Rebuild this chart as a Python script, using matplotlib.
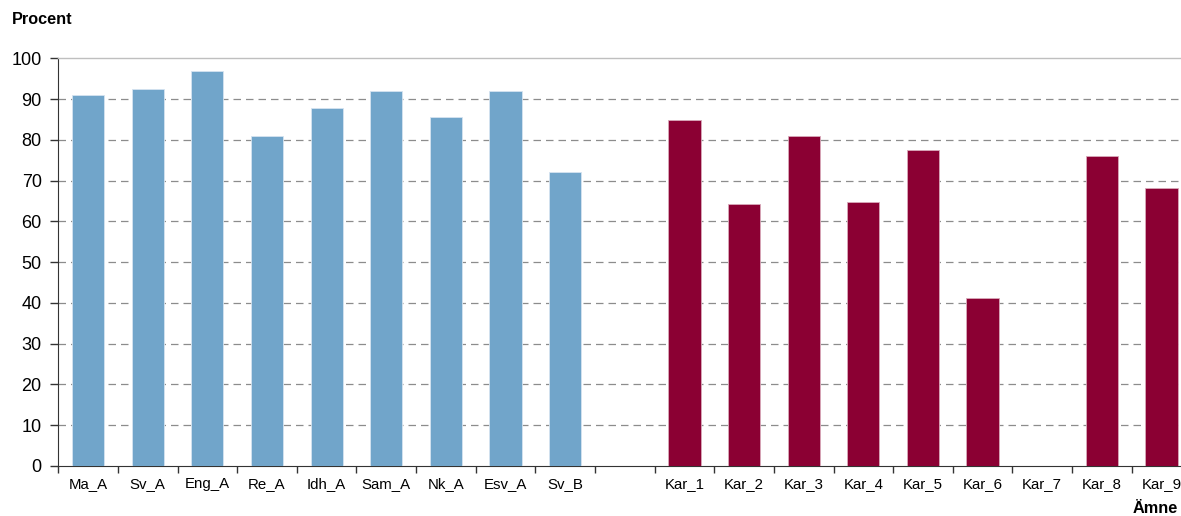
import numpy as np
import matplotlib.pyplot as plt

plt.rcParams['font.family'] = ['Liberation Sans', 'DejaVu Sans']

# === Dati ===
amnen_a = ['Ma_A', 'Sv_A', 'Eng_A', 'Re_A', 'Idh_A', 'Sam_A', 'Nk_A', 'Esv_A', 'Sv_B']
varden_a = [91.0, 92.4, 96.9, 80.9, 87.9, 92.0, 85.5, 92.0, 72.0]

amnen_kar = ['Kar_1', 'Kar_2', 'Kar_3', 'Kar_4', 'Kar_5', 'Kar_6', 'Kar_7', 'Kar_8', 'Kar_9']
varden_kar = [84.8, 64.3, 80.9, 64.7, 77.5, 41.3, np.nan, 76.1, 68.2]

labels = amnen_a + [''] + amnen_kar
blue = '#71a5ca'
red = '#8b0033'

# === Figura ===
W, H = 1181, 516
fig = plt.figure(figsize=(W / 100, H / 100), dpi=100)
left, right = 58.3, 1191.3
bottom, top = 466, 58.3
ax = fig.add_axes([left / W, (H - bottom) / H, (right - left) / W, (bottom - top) / H])

x_a = np.arange(len(amnen_a)) + 0.5
x_kar = np.arange(len(amnen_kar)) + len(amnen_a) + 1.5
ax.bar(x_a, varden_a, width=0.54, color=blue, edgecolor='#d6e4f0', linewidth=0.6, zorder=3)
ax.bar(x_kar, np.nan_to_num(varden_kar), width=0.54, color=red, edgecolor='#d9a9ba',
       linewidth=0.6, zorder=3)

ax.set_xlim(0, len(labels))
ax.set_ylim(0, 100)
ax.set_yticks(np.arange(0, 101, 10))
ax.tick_params(axis='y', labelsize=13, length=5.5, width=1, color='#333333', pad=6.5)

# tick sui confini delle categorie, etichette al centro
ax.set_xticks(np.arange(0, len(labels) + 1))
ax.set_xticklabels([])
ax.set_xticks(np.arange(len(labels)) + 0.5, minor=True)
ax.set_xticklabels(labels, minor=True)
ax.tick_params(axis='x', which='major', length=5, width=1, color='#333333')
ax.tick_params(axis='x', which='minor', length=0, labelsize=10.8, pad=8)

for y in range(10, 100, 10):
    ax.axhline(y, color='#8c8c8c', linestyle=(0, (6, 4)), linewidth=0.9, zorder=1)

ax.spines['top'].set_color('#bfbfbf')
ax.spines['top'].set_linewidth(1)
ax.spines['right'].set_visible(False)
ax.spines['left'].set_color('#333333')
ax.spines['bottom'].set_color('#333333')

fig.text(12 / W, 1 - 19 / H, 'Procent', fontsize=11.7, fontweight='bold', va='center', ha='left')
fig.text(1178 / W, 1 - 508.5 / H, 'Ämne', fontsize=11.7, fontweight='bold', va='center', ha='right')

fig.savefig('out.png', dpi=100)
